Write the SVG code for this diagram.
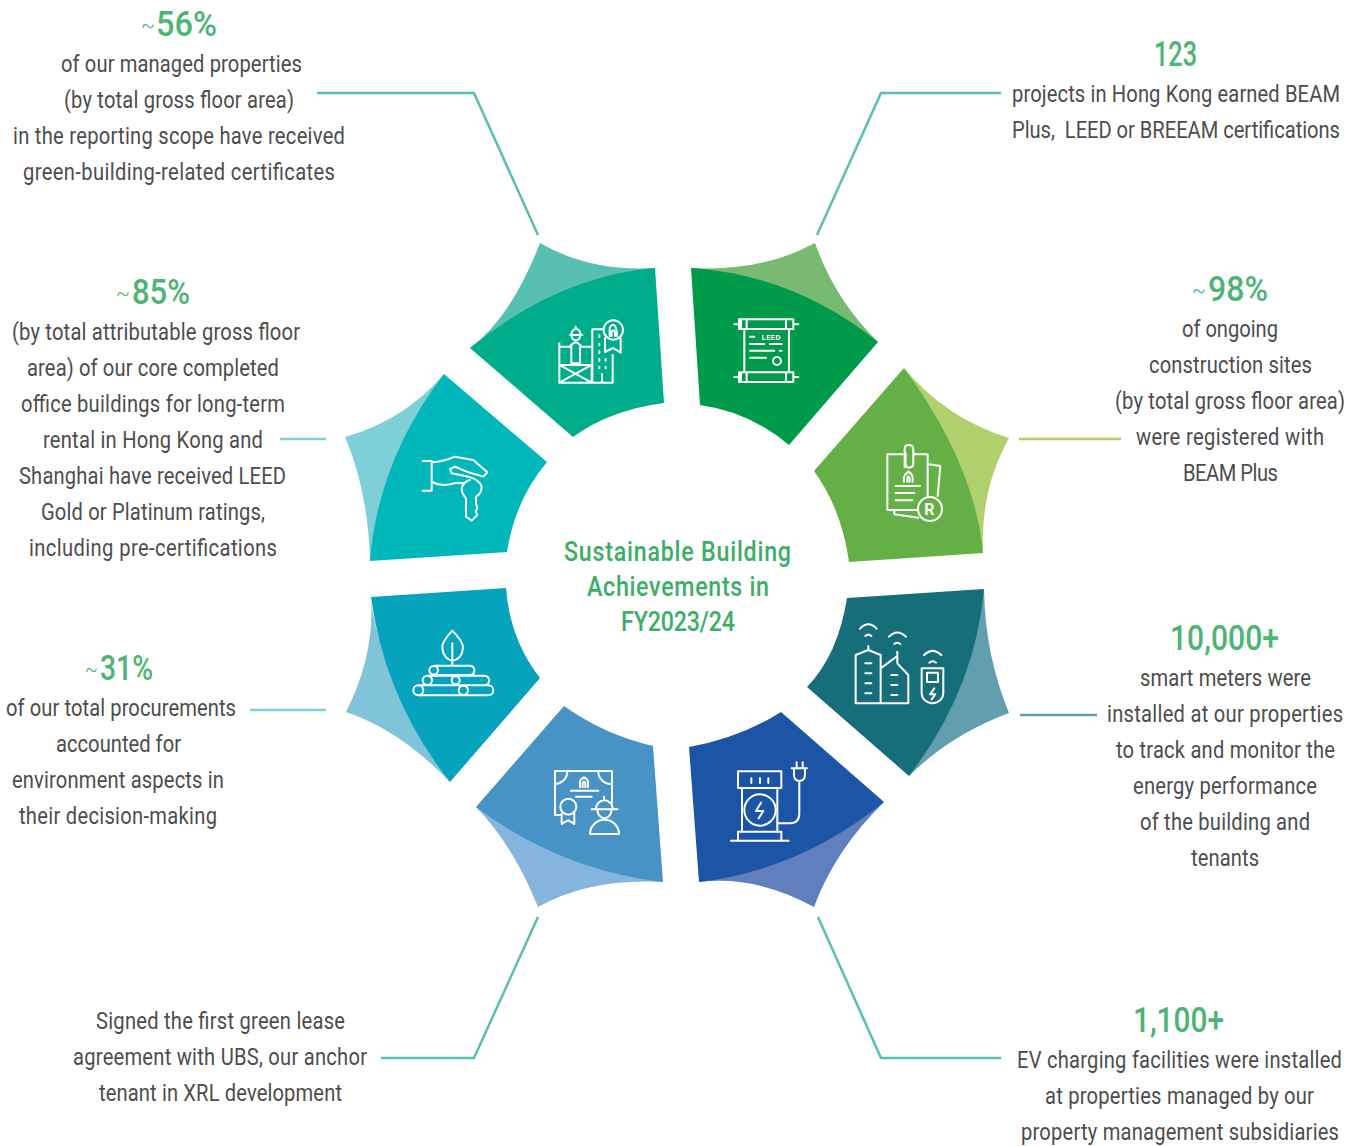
<svg xmlns="http://www.w3.org/2000/svg" width="1363" height="1146" viewBox="0 0 1363 1146">
<style>
text{font-family:Roboto,"Liberation Sans",sans-serif;white-space:pre}
.t{font-size:24px;fill:#4d4d4d}
.h{font-size:35px;font-weight:500;fill:#4cb574}
.s{font-size:24px;font-weight:300;fill:#4cb574}
.c{font-size:27px;font-weight:500;fill:#3dae68}
.i{fill:none;stroke:#fff;stroke-width:6;stroke-linecap:round;stroke-linejoin:round}
.l{fill:#fff;font-weight:700}
.cn{fill:none;stroke-width:2.5}
</style>
<rect width="1363" height="1146" fill="#fff"/>
<g id="connectors">
<path class="cn" stroke="#57c0b1" d="M317 93H474L538 235"/>
<path class="cn" stroke="#57c0b1" d="M1001 93H881L817 235"/>
<path class="cn" stroke="#afd06c" d="M1019 439H1121"/>
<path class="cn" stroke="#609eb0" d="M1020 715H1097"/>
<path class="cn" stroke="#57c0b1" d="M1001 1058H881L818 917"/>
<path class="cn" stroke="#57c0b1" d="M381 1058H474L538 917"/>
<path class="cn" stroke="#7fcfd8" d="M250 710H326"/>
<path class="cn" stroke="#7fcfd8" d="M280 439H326"/>
</g>
<g id="node-green-certificates">
<path fill="#57c0b1" d="M540 243Q590 272 655 268L470 348Q511 318 540 243Z"/>
<path fill="#00ad8a" d="M470 348Q558 276 655 268L664 403Q610 410 573 437Z"/>
<g transform="translate(460 230) scale(.3333)" class="i">
<path d="M298 340V458H395L298 405H395L298 458M298 350H330M362 350H395M395 405V458"/>
<path d="M330 315H367M334 315A14 18 0 0 1 362 315M347 290V297M335 318A12 12 0 0 0 360 318M330 350Q347 325 364 350M334 350V400H360V350"/>
<path d="M397 458V298H430M458 375V458H397M426 458V432M418 316V321M418 341V346M418 364V369M418 387V392M437 387V392M418 410V415M437 410V415"/>
<circle cx="460" cy="300" r="29"/><path d="M435 325V366L459 354L482 368V325M449 318V298Q449 287 460 284Q471 287 471 318M455 318V306Q460 296 465 306V318"/>
</g>
</g>
<g id="node-leed">
<path fill="#78ba72" d="M691 268Q762 272 815 243Q835 300 878 342Z"/>
<path fill="#009b4a" d="M691 268Q795 275 878 342L789 445Q750 412 700 405Z"/>
<g transform="translate(685 230) scale(.3333)" class="i">
<path d="M162 268H325V297H162ZM162 427H325V456H162ZM185 268V297M185 427V456M303 268V297M303 427V456M168 268V297M168 427V456M148 283H162M325 283H340M148 441H162M325 441H340M178 297V427M312 297V427"/>
<path d="M195 320H208M195 342H238M255 342H290M195 362H268M284 362H290M195 383H243"/><circle cx="276" cy="393" r="12"/>
<text class="l" x="230" y="329" font-size="23" stroke="none" letter-spacing="1">LEED</text>
</g>
</g>
<g id="node-beam-plus">
<path fill="#afd06c" d="M904 368Q945 418 1009 438Q980 490 983 553Z"/>
<path fill="#64b046" d="M904 368Q975 465 983 553L849 562Q842 510 814 471Z"/>
<g transform="translate(805 360) scale(.3333)" class="i">
<path d="M293 283H247V450H340M325 283H368V408M368 312L406 318L398 408M268 450V463L340 473"/>
<path d="M299 322V268Q299 255 310 255Q325 255 325 268V310Q325 323 312 323Q302 323 302 310V280"/>
<path d="M297 365V352Q300 342 310 335Q321 342 323 352V365M307 365V355L310 349L314 355V365M272 378H345M272 399H328M272 421H322"/>
<circle cx="375" cy="447" r="36"/>
<text class="l" x="358" y="464" font-size="48" stroke="none">R</text>
</g>
</g>
<g id="node-smart-meters">
<path fill="#609eb0" d="M984 589Q985 655 1009 713Q950 735 909 776Z"/>
<path fill="#166e7a" d="M847 598L984 589Q975 690 909 776L807 687Q838 655 847 598Z"/>
<g transform="translate(800 580) scale(.3333)" class="i">
<path d="M242 370H167V225L205 210L242 225V370H325V285L292 250V228L242 265M205 210V198M292 228V215"/>
<path d="M196 250H214M196 280H214M196 310H214M196 340H214M274 285H292M274 315H292M274 345H292"/>
<path d="M180 146Q205 120 230 146M196 168Q205 160 214 168M267 170Q292 145 318 170M283 192Q292 185 301 192M372 225Q398 200 424 225M388 248Q398 240 408 248"/>
<path d="M365 265H430V340A32 29 0 0 1 365 340ZM381 278H414V306H381ZM403 325L390 343H406L395 358"/>
</g>
</g>
<g id="node-ev-charging">
<path fill="#617ebd" d="M884 802Q835 850 814 907Q755 875 699 882Z"/>
<path fill="#1c55a5" d="M689 747Q740 738 781 712L884 802Q800 870 699 882Z"/>
<g transform="translate(680 705) scale(.3333)" class="i">
<path d="M174 199H304V249H174ZM214 220V234M240 220V234M265 220V234M186 249V380M292 249V380M174 407V380H304V407M153 407H326"/>
<circle cx="240" cy="315" r="47"/><path d="M243 293L228 318H250L236 340"/>
<path d="M292 355H330Q358 355 358 325V228M342 190H375V208Q375 228 358 228Q342 228 342 208ZM335 190H381M350 172V190M368 172V190"/>
</g>
</g>
<g id="node-green-lease">
<path fill="#85b5dc" d="M476 807Q513 845 538 907Q590 878 663 882Z"/>
<path fill="#4893c6" d="M564 706Q605 735 653 746L663 882Q560 870 476 807Z"/>
<g transform="translate(470 700) scale(.3333)" class="i">
<path d="M272 345H255V213H426V310M292 213A38 38 0 0 1 255 252M385 213A38 38 0 0 0 426 252"/>
<path d="M330 262V245Q331 237 342 232Q353 237 354 245V262M338 262V250L342 244L346 250V262M302 272H385M318 290H365"/>
<circle cx="295" cy="320" r="24"/><path d="M275 340V372L295 360L313 372V340"/>
<path d="M365 328H443M378 326A25 25 0 0 1 428 326M402 290V300M382 328A21 26 0 0 0 425 328M360 402A43 42 0 0 1 447 402Z"/>
</g>
</g>
<g id="node-procurement">
<path fill="#80c4da" d="M371 597Q375 660 450 782Q400 730 346 712Q375 655 371 597Z"/>
<path fill="#06a3bc" d="M371 597L506 588Q510 640 540 678L450 782Q385 700 371 597Z"/>
<g transform="translate(340 580) scale(.3333)" class="i">
<path d="M337 152Q305 185 307 205Q312 238 337 242Q365 238 369 205Q370 185 337 152ZM337 190V255"/>
<path d="M282 257H390A13 13 0 0 1 403 273Q403 284 390 285H282M262 287H433A14 14 0 0 1 433 316H262M235 316H445A15 15 0 0 1 445 346H235"/>
<circle cx="281" cy="271" r="13"/><circle cx="262" cy="301" r="14"/><circle cx="347" cy="301" r="12"/><circle cx="235" cy="331" r="15"/><circle cx="370" cy="331" r="14"/>
</g>
</g>
<g id="node-office-buildings">
<path fill="#7fcfd8" d="M444 374Q405 420 345 437Q368 490 370 561Z"/>
<path fill="#00b8ba" d="M444 374L547 462Q515 500 507 552L370 561Q378 460 444 374Z"/>
<g transform="translate(340 365) scale(.3333)" class="i">
<path d="M248 288H275V377H248M275 292Q310 290 345 275L400 285L442 322L430 335L385 322L345 305L330 312L335 325L385 335"/>
<path d="M275 350Q300 365 330 358Q350 350 370 355"/>
<path d="M385 335Q420 345 425 365Q425 385 408 395V415L412 430L407 440L412 450L395 467L378 455V400Q365 385 365 370Q370 350 390 345"/>
</g>
</g>
<g id="center"><text class="c" transform="translate(564 561) scale(.86 1)" textLength="264">Sustainable Building</text><text class="c" transform="translate(587 596) scale(.86 1)" textLength="211.6">Achievements in</text><text class="c" transform="translate(621 631) scale(.86 1)" textLength="132.6">FY2023/24</text></g>
<g id="label-56">
<text class="s" x="141" y="33" textLength="14" lengthAdjust="spacingAndGlyphs">~</text><text class="h" x="156" y="36" textLength="61" lengthAdjust="spacingAndGlyphs">56%</text>
<text class="t" transform="translate(61 72) scale(.84 1)" textLength="286.9">of our managed properties</text>
<text class="t" transform="translate(64 108) scale(.84 1)" textLength="273.8">(by total gross floor area)</text>
<text class="t" transform="translate(13 144) scale(.84 1)" textLength="395.2">in the reporting scope have received</text>
<text class="t" transform="translate(23 180) scale(.84 1)" textLength="371.4">green-building-related certificates</text>
</g>
<g id="label-123">
<text class="h" x="1154" y="66" textLength="43" lengthAdjust="spacingAndGlyphs">123</text>
<text class="t" transform="translate(1012 102) scale(.84 1)" textLength="390.5">projects in Hong Kong earned BEAM</text>
<text class="t" transform="translate(1012 138) scale(.84 1)" textLength="390.5">Plus,  LEED or BREEAM certifications</text>
</g>
<g id="label-98">
<text class="s" x="1192" y="298" textLength="14" lengthAdjust="spacingAndGlyphs">~</text><text class="h" x="1208" y="301" textLength="60" lengthAdjust="spacingAndGlyphs">98%</text>
<text class="t" transform="translate(1182 337) scale(.84 1)" textLength="114.3">of ongoing</text>
<text class="t" transform="translate(1149 373) scale(.84 1)" textLength="194">construction sites</text>
<text class="t" transform="translate(1115 409) scale(.84 1)" textLength="273.8">(by total gross floor area)</text>
<text class="t" transform="translate(1136 445) scale(.84 1)" textLength="223.8">were registered with</text>
<text class="t" transform="translate(1183 481) scale(.84 1)" textLength="113.1">BEAM Plus</text>
</g>
<g id="label-10000">
<text class="h" x="1170" y="650" textLength="109" lengthAdjust="spacingAndGlyphs">10,000+</text>
<text class="t" transform="translate(1140 686) scale(.84 1)" textLength="203.6">smart meters were</text>
<text class="t" transform="translate(1107 722) scale(.84 1)" textLength="281">installed at our properties</text>
<text class="t" transform="translate(1116 758) scale(.84 1)" textLength="260.7">to track and monitor the</text>
<text class="t" transform="translate(1133 794) scale(.84 1)" textLength="219">energy performance</text>
<text class="t" transform="translate(1140 830) scale(.84 1)" textLength="202.4">of the building and</text>
<text class="t" transform="translate(1191 866) scale(.84 1)" textLength="81">tenants</text>
</g>
<g id="label-1100">
<text class="h" x="1133" y="1032" textLength="91" lengthAdjust="spacingAndGlyphs">1,100+</text>
<text class="t" transform="translate(1017 1068) scale(.84 1)" textLength="386.9">EV charging facilities were installed</text>
<text class="t" transform="translate(1045 1104) scale(.84 1)" textLength="320.2">at properties managed by our</text>
<text class="t" transform="translate(1021 1140) scale(.84 1)" textLength="378.6">property management subsidiaries</text>
</g>
<g id="label-lease">
<text class="t" transform="translate(96 1029) scale(.84 1)" textLength="296.4">Signed the first green lease</text>
<text class="t" transform="translate(73 1065) scale(.84 1)" textLength="350">agreement with UBS, our anchor</text>
<text class="t" transform="translate(99 1101) scale(.84 1)" textLength="289.3">tenant in XRL development</text>
</g>
<g id="label-31">
<text class="s" x="85" y="677" textLength="13" lengthAdjust="spacingAndGlyphs">~</text><text class="h" x="100" y="680" textLength="53" lengthAdjust="spacingAndGlyphs">31%</text>
<text class="t" transform="translate(6 716) scale(.84 1)" textLength="273.8">of our total procurements</text>
<text class="t" transform="translate(56 752) scale(.84 1)" textLength="148.8">accounted for</text>
<text class="t" transform="translate(12 788) scale(.84 1)" textLength="252.4">environment aspects in</text>
<text class="t" transform="translate(19 824) scale(.84 1)" textLength="235.7">their decision-making</text>
</g>
<g id="label-85">
<text class="s" x="116" y="301" textLength="14" lengthAdjust="spacingAndGlyphs">~</text><text class="h" x="132" y="304" textLength="58" lengthAdjust="spacingAndGlyphs">85%</text>
<text class="t" transform="translate(12 340) scale(.84 1)" textLength="342.9">(by total attributable gross floor</text>
<text class="t" transform="translate(27 376) scale(.84 1)" textLength="300">area) of our core completed</text>
<text class="t" transform="translate(21 412) scale(.84 1)" textLength="314.3">office buildings for long-term</text>
<text class="t" transform="translate(43 448) scale(.84 1)" textLength="261.9">rental in Hong Kong and</text>
<text class="t" transform="translate(19 484) scale(.84 1)" textLength="317.9">Shanghai have received LEED</text>
<text class="t" transform="translate(41 520) scale(.84 1)" textLength="266.7">Gold or Platinum ratings,</text>
<text class="t" transform="translate(29 556) scale(.84 1)" textLength="295.2">including pre-certifications</text>
</g>
</svg>
